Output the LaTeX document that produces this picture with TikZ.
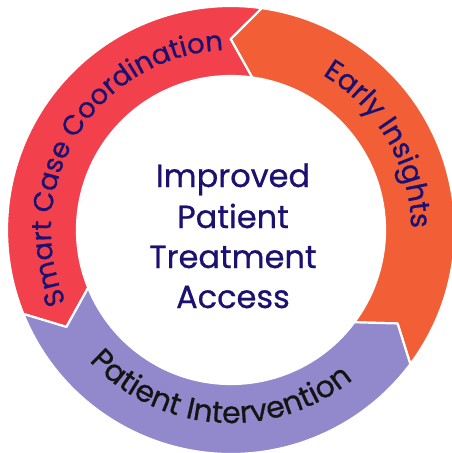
\documentclass[tikz,border=0pt]{standalone}
\usepackage{fontspec}
\setmainfont{Poppins}[FakeBold=0.7]
\usetikzlibrary{decorations.text}
\definecolor{segred}{HTML}{F2414C}
\definecolor{segorange}{HTML}{F25F37}
\definecolor{segpurple}{HTML}{9288CC}
\definecolor{navy}{HTML}{1B1170}
\definecolor{inkblack}{HTML}{141414}
\newcommand\arcfont[1]{\fontsize{#1}{33}\selectfont}
% #1 colour, #2 tail angle, #3 head angle, #4 notch angle, #5 tip angle
\newcommand\ringseg[5]{%
  \filldraw[segstyle, fill=#1] (#2:224) arc[start angle=#2, end angle=#3, radius=224]
    -- (#5:191) -- (#3:154) arc[start angle=#3, end angle=#2, radius=154]
    -- (#4:191) -- cycle;}
\begin{document}
\begin{tikzpicture}[x=1pt, y=1pt,
  segstyle/.style={draw=white, line width=2.2pt, line join=round},
  titleline/.style={anchor=base, text=navy, font=\fontsize{32}{40}\selectfont, inner sep=0pt},
  arclabel/.style={decorate, decoration={text along path, text align=center, text color=#1}}]
\useasboundingbox (-231,-223) rectangle (220,230);
% ring segments (arrows pointing counterclockwise)
\ringseg{segorange}{-36.8}{82.1}{-29.3}{90.1}
\ringseg{segred}{82.1}{202}{90.1}{210.5}
\ringseg{segpurple}{202}{323.2}{210.5}{330.7}
% labels along the ring
\path[arclabel=navy, decoration={text={|\arcfont{27.5}|Smart Case Coordination}}]
  (218:180) arc[start angle=218, end angle=78, radius=180];
\path[arclabel=navy, decoration={text={|\arcfont{28.5}|Early Insights}}]
  (90:180) arc[start angle=90, end angle=-30, radius=180];
\path[arclabel=inkblack, decoration={text={|\arcfont{30}|Patient Intervention}}]
  (196:193) arc[start angle=196, end angle=336, radius=193];
% centre title
\node[titleline] (t1) at (2,43) {Improved};
\node[titleline] (t2) at (2,2) {Patient};
\node[titleline] (t3) at (2,-38) {Treatment};
\node[titleline] (t4) at (2,-78) {Access};
\end{tikzpicture}
\end{document}
